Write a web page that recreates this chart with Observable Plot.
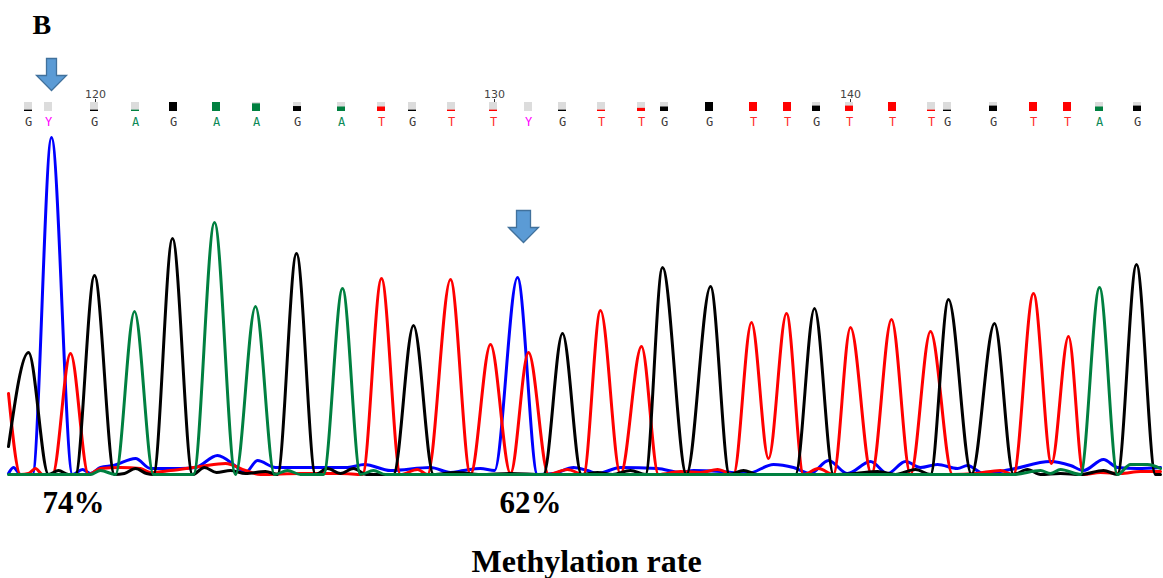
<!DOCTYPE html>
<html><head><meta charset="utf-8">
<script src="https://cdn.jsdelivr.net/npm/d3@7"></script>
<script src="https://cdn.jsdelivr.net/npm/@observablehq/plot@0.6"></script>
<style>
body{margin:0;background:#fff}
#chart{position:relative;width:1163px;height:578px;overflow:hidden;background:#fff}
#chart svg{position:absolute;left:0;display:block;background:transparent}
</style>
</head><body><div id="chart"></div>
<script>
// ---- base calls ----
const bases = "GYGAGAAGATGTTYGTTGGTTGTTTGGTTAG".split("");
const baseX = [28, 48, 94, 135, 173, 216, 256, 297, 341, 381, 412, 451, 493, 528, 562, 601, 641, 664, 709, 753, 787, 816, 849, 892, 931, 947, 993, 1033, 1067, 1099, 1137];
const quality = [0.15, 0, 0.15, 0.15, 1, 1, 0.85, 0.55, 0.5, 0.5, 0.15, 0.15, 0.15, 0, 0.15, 0.15, 0.35, 0.5, 1, 1, 1, 0.6, 0.6, 1, 0.15, 0.15, 0.6, 1, 1, 0.5, 0.6];
const positionLabels = [120, 130, 140];
const positionBaseIndex = [2, 12, 22];
const rateLabels = ["74%", "62%"];
const rateX = [73, 530];
const arrowX = [51, 523];
const arrowTraceY = 248;
const panelLabel = "B";
const captionText = "Methylation rate";

// ---- trace key points [scan, intensity] per channel ----
const traceC = [[8,1],[13,7],[20,0],[32,0],[51,337],[72,0],[82,5],[90,1],[100,7],[113,9],[135,16],[150,6],[180,6],[195,7],[217,19],[237,7],[245,2],[257,14],[275,7],[347,7],[364,10],[390,4],[430,7],[450,2],[463,4],[480,6],[494,4],[517,197],[537,0],[553,1],[573,7],[587,4],[597,1],[620,7],[657,6],[680,2],[693,4],[720,3],[747,1],[773,10],[793,7],[810,1],[828,14],[847,1],[870,13],[887,1],[905,13],[920,7],[937,10],[957,6],[967,9],[983,1],[1010,5],[1050,13],[1070,9],[1083,4],[1103,15],[1117,7],[1137,6],[1160,7]];
const traceT = [[8,81],[20,0],[28,1],[35,6],[42,0],[52,0],[70,121],[88,0],[100,6],[120,7],[140,6],[150,2],[170,4],[200,8],[225,11],[245,4],[260,0],[300,1],[340,1],[362,0],[381,196],[400,0],[417,5],[427,0],[450,195],[470,0],[490,130],[510,1],[528,122],[548,0],[567,5],[583,0],[600,164],[620,0],[641,128],[658,0],[680,3],[700,2],[717,5],[733,0],[751,152],[768,16],[786,161],[803,0],[818,6],[833,0],[850,147],[871,0],[891,155],[910,0],[930,143],[952,0],[975,1],[1000,4],[1013,0],[1033,181],[1051,11],[1068,138],[1083,0],[1100,2],[1120,1],[1140,3],[1160,3]];
const traceG = [[8,28],[28,122],[48,0],[58,4],[68,0],[75,0],[94,199],[114,0],[124,1],[135,6],[146,1],[153,0],[172,236],[192,0],[204,7],[216,2],[230,4],[245,1],[265,3],[277,0],[296,221],[315,0],[327,6],[340,1],[353,6],[366,0],[393,0],[413,149],[433,0],[455,2],[480,0],[510,1],[543,0],[562,141],[581,0],[597,2],[612,0],[630,4],[645,0],[662,207],[686,0],[710,188],[729,0],[743,4],[757,0],[795,0],[814,166],[833,0],[855,1],[877,3],[895,0],[915,5],[930,0],[948,175],[971,0],[994,151],[1013,0],[1027,5],[1040,0],[1060,1],[1080,0],[1103,4],[1117,0],[1136,210],[1155,0],[1160,0]];
const traceA = [[8,0],[90,0],[100,4],[115,0],[134,163],[153,0],[165,0],[193,0],[214,252],[235,0],[255,168],[274,0],[287,4],[300,0],[323,0],[342,186],[360,0],[373,4],[385,0],[1013,0],[1040,4],[1050,1],[1060,5],[1080,0],[1099,187],[1117,0],[1130,10],[1147,10],[1160,6]];

// ---- styling ----
const squareColor = {G: "#000000", A: "#008040", T: "#ff0000"};
const letterColor = {G: "#3a3a3a", A: "#0b8a57", T: "#ff2a2a", Y: "#ff00ff", C: "#0000ff"};
const traceColor = {C: "#0000ff", T: "#ff0000", G: "#000000", A: "#008040"};
const serif = "'Liberation Serif', 'Times New Roman', serif";

const arrowSymbol = (s) => ({draw(ctx) {
  ctx.moveTo(-s, -16); ctx.lineTo(s, -16); ctx.lineTo(s, 1); ctx.lineTo(15, 1);
  ctx.lineTo(0, 16); ctx.lineTo(-15, 1); ctx.lineTo(-s, 1); ctx.closePath();
}});
const tickSymbol = {draw(ctx) { ctx.moveTo(0, -1.5); ctx.lineTo(0, 1.5); }};

const baseTable = bases.map((b, i) => ({base: b, x: baseX[i], q: quality[i]}));
const half = 4;

const header = Plot.plot({
  width: 1163, height: 130,
  marginLeft: 8, marginRight: 3, marginTop: 102, marginBottom: 19,
  x: {domain: [8, 1160], axis: null},
  y: {domain: [0, 1], axis: null},
  color: {type: "identity"},
  marks: [
    Plot.text([panelLabel], {text: d => d, frameAnchor: "top-left", dx: 24, dy: -77, textAnchor: "start", lineAnchor: "middle",
      fontFamily: serif, fontWeight: "bold", fontSize: 28, fill: "#000"}),
    Plot.dot([arrowX[0]], {x: d => d, frameAnchor: "top", dy: -28, symbol: arrowSymbol(5), r: 10,
      fill: "#5b9bd5", stroke: "#41719c", strokeWidth: 1.3}),
    Plot.text(positionLabels, {x: (d, i) => baseX[positionBaseIndex[i]] + 1, text: d => String(d), frameAnchor: "top", dy: -8,
      lineAnchor: "middle", fontFamily: "'DejaVu Sans', sans-serif", fontSize: 11, fill: "#444"}),
    Plot.dot(positionLabels, {x: (d, i) => baseX[positionBaseIndex[i]] + 1, frameAnchor: "top", dy: -2, symbol: tickSymbol,
      fill: "none", stroke: "#333", strokeWidth: 1}),
    Plot.rect(baseTable, {x1: d => d.x - half, x2: d => d.x + half, y1: 0, y2: 1, fill: "#dcdcdc"}),
    Plot.rect(baseTable.filter(d => d.q > 0), {x1: d => d.x - half, x2: d => d.x + half, y1: 0, y2: "q", fill: d => squareColor[d.base]}),
    Plot.text(baseTable, {x: "x", text: "base", frameAnchor: "bottom", dy: 11, lineAnchor: "middle",
      fill: d => letterColor[d.base], fontFamily: "'DejaVu Sans Mono', monospace", fontSize: 12})
  ]
});

const lineOpts = (ch) => ({x: d => d[0], y: d => d[1], stroke: traceColor[ch], strokeWidth: 3,
  curve: "monotone-x", strokeLinejoin: "round"});

const trace = Plot.plot({
  width: 1163, height: 448,
  marginLeft: 8, marginRight: 3, marginTop: 7, marginBottom: 104,
  x: {domain: [8, 1160], axis: null},
  y: {domain: [0, 337], axis: null},
  marks: [
    Plot.line(traceC, lineOpts("C")),
    Plot.line(traceT, lineOpts("T")),
    Plot.line(traceG, lineOpts("G")),
    Plot.line(traceA, lineOpts("A")),
    Plot.dot([{x: arrowX[1], y: arrowTraceY}], {x: "x", y: "y", symbol: arrowSymbol(7), r: 10,
      fill: "#5b9bd5", stroke: "#41719c", strokeWidth: 1.3}),
    Plot.text(rateLabels, {x: (d, i) => rateX[i], text: d => d, frameAnchor: "bottom", dy: 29, lineAnchor: "middle",
      fontFamily: serif, fontWeight: "bold", fontSize: 31, fill: "#000"}),
    Plot.text([captionText], {text: d => d, frameAnchor: "bottom", dx: 2, dy: 87, lineAnchor: "middle",
      fontFamily: serif, fontWeight: "bold", fontSize: 32, fill: "#000"})
  ]
});

const chart = document.getElementById("chart");
header.style.top = "0px";
trace.style.top = "130px";
chart.appendChild(trace);
chart.appendChild(header);
</script></body></html>
